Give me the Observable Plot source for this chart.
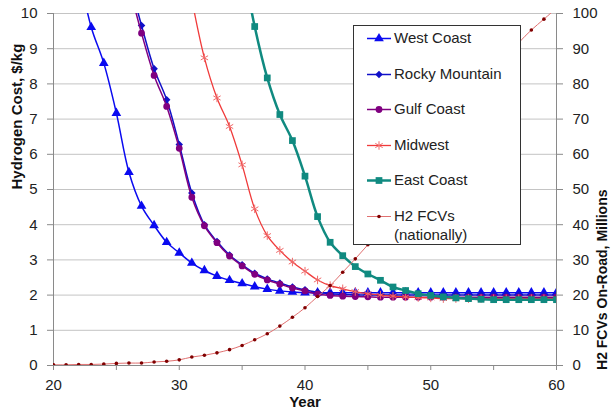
<!DOCTYPE html>
<html>
<head>
<meta charset="utf-8">
<script src="https://cdn.jsdelivr.net/npm/d3@7"></script>
<script src="https://cdn.jsdelivr.net/npm/@observablehq/plot@0.6"></script>
<style>
  html, body { margin: 0; padding: 0; background: #fff; }
  #wrap { position: relative; width: 611px; height: 414px; font-family: "Liberation Sans", Arial, sans-serif; }
  #legend { position: absolute; left: 353px; top: 25px; width: 166px; height: 218px; border: 1px solid #333; background: #fff; box-sizing: content-box; }
  .row { position: absolute; left: 13px; display: flex; align-items: flex-start; font-size: 15px; color: #222; }
  .row svg { flex: none; margin-right: 3px; }
  .row span { line-height: 19px; }
</style>
</head>
<body>
<div id="wrap"></div>
<script>
// ---- data ----
const xTicks = [20, 25, 30, 35, 40, 45, 50, 55, 60];
const leftTicks = [0, 1, 2, 3, 4, 5, 6, 7, 8, 9, 10];
const rightTicks = [0, 10, 20, 30, 40, 50, 60, 70, 80, 90, 100];

const seriesNames = ["West Coast", "Rocky Mountain", "Gulf Coast", "Midwest", "East Coast", "H2 FCVs (nationally)"];

const westCoastStart = 22;
const westCoast = [11.2, 9.61, 8.59, 7.17, 5.49, 4.53, 3.98, 3.5, 3.2, 2.91, 2.70, 2.54, 2.42, 2.33, 2.24, 2.17, 2.12, 2.09, 2.07, 2.07,
  2.07, 2.07, 2.07, 2.07, 2.07, 2.07, 2.07, 2.07, 2.07, 2.07, 2.07, 2.07, 2.07, 2.07, 2.07, 2.07, 2.07, 2.07, 2.07];

const rockyStart = 26;
const rocky = [11.0, 9.66, 8.43, 7.55, 6.28, 4.9, 4.0, 3.52, 3.14, 2.86, 2.62, 2.46, 2.34, 2.23, 2.15, 2.08, 2.04, 2.02, 2.01,
  2.0, 2.0, 2.0, 2.0, 2.0, 2.0, 2.0, 2.0, 2.0, 2.0, 2.0, 2.0, 2.0, 2.0, 2.0, 2.0];

const gulfStart = 26;
const gulf = [10.8, 9.44, 8.24, 7.36, 6.17, 4.78, 3.97, 3.49, 3.11, 2.83, 2.59, 2.43, 2.31, 2.2, 2.12, 2.03, 1.99, 1.97, 1.96, 1.95,
  1.94, 1.94, 1.94, 1.94, 1.94, 1.94, 1.94, 1.94, 1.94, 1.94, 1.94, 1.94, 1.94, 1.94, 1.94];

const midwestStart = 31;
const midwest = [10.4, 8.74, 7.6, 6.79, 5.7, 4.45, 3.69, 3.27, 2.94, 2.68, 2.43, 2.27, 2.18, 2.1, 2.04, 2.0, 1.97, 1.95, 1.93, 1.92,
  1.9, 1.9, 1.9, 1.9, 1.9, 1.9, 1.9, 1.9, 1.9, 1.9];

const eastStart = 35;
const east = [11.5, 9.63, 8.17, 7.13, 6.39, 5.38, 4.23, 3.5, 3.12, 2.81, 2.6, 2.42, 2.23, 2.13, 2.04, 1.99, 1.95, 1.92, 1.9, 1.88,
  1.87, 1.87, 1.87, 1.87, 1.87, 1.87];

const fcvStart = 20; // millions on road (right axis)
const fcv = [0.2, 0.2, 0.3, 0.3, 0.4, 0.6, 0.7, 0.7, 1.0, 1.2, 1.6, 2.4, 2.9, 3.6, 4.5, 5.7, 7.3, 9.0, 11.2, 13.7, 16.4, 19.6,
  22.7, 26.5, 30.3, 34.3, 38.6, 43.2, 48.1, 53.2, 58.5, 63.8, 69.0, 74.0, 78.8, 83.3, 87.5, 91.7, 95.3, 98.4, 101.5];

// ---- styling ----
const toRows = (start, vals, f = v => v) => vals.map((v, i) => ({year: start + i, v: f(v)}));
const series = [
  {name: seriesNames[0], rows: toRows(westCoastStart, westCoast), color: "#0a0af0", line: "#0a0af0", sw: 1.5, symbol: "triangle", r: 3.6, kind: "fill"},
  {name: seriesNames[1], rows: toRows(rockyStart, rocky), color: "#1010c8", line: "#1010c8", sw: 1.5, symbol: "diamond2", r: 3.4, kind: "fill"},
  {name: seriesNames[2], rows: toRows(gulfStart, gulf), color: "#800080", line: "#800080", sw: 1.5, symbol: "circle", r: 3.4, kind: "fill"},
  {name: seriesNames[3], rows: toRows(midwestStart, midwest), color: "#f06a6a", line: "#f03a3a", sw: 1.3, symbol: "asterisk", r: 4, kind: "stroke"},
  {name: seriesNames[4], rows: toRows(eastStart, east), color: "#108a80", line: "#108a80", sw: 2.5, symbol: "square", r: 3.8, kind: "fill"},
  {name: seriesNames[5], rows: toRows(fcvStart, fcv, v => v / 10), color: "#800000", line: "#e07070", sw: 1, symbol: "circle", r: 1.8, kind: "fill"}
];

const marks = [
  Plot.gridY(leftTicks, {stroke: "#c4c4c4", strokeOpacity: 1}),
  Plot.ruleX([20, 60], {stroke: "#8a8a8a"}),
  Plot.ruleY([0], {stroke: "#8a8a8a"}),
  Plot.axisY(leftTicks, {anchor: "left", tickSize: 6, tickPadding: 10, stroke: "#8a8a8a", fill: "#222", label: null}),
  Plot.axisY(rightTicks.map(t => t / 10), {anchor: "right", tickSize: 6, tickPadding: 10, stroke: "#8a8a8a", fill: "#222",
    tickFormat: d => String(Math.round(d * 10)), label: null}),
  Plot.axisX(xTicks, {anchor: "bottom", tickSize: 5, tickPadding: 9, stroke: "#8a8a8a", fill: "#222",
    tickFormat: d => (d % 10 === 0 ? String(d) : ""), label: null})
];

for (const s of series) {
  marks.push(Plot.line(s.rows, {x: "year", y: "v", stroke: s.line, strokeWidth: s.sw, curve: "catmull-rom", clip: true}));
  if (s.kind === "fill") {
    marks.push(Plot.dot(s.rows, {x: "year", y: "v", symbol: () => s.symbol, r: s.r, fill: s.color, stroke: "none", clip: true}));
  } else {
    marks.push(Plot.dot(s.rows, {x: "year", y: "v", symbol: () => s.symbol, r: s.r, fill: "none", stroke: s.color, strokeWidth: 1, clip: true}));
  }
}

marks.push(
  Plot.text(["Hydrogen Cost, $/kg"], {frameAnchor: "left", rotate: -90, dx: -36, fontWeight: "bold", fontSize: 15, fill: "#111"}),
  Plot.text(["H2 FCVs On-Road, Millions"], {frameAnchor: "right", rotate: -90, dx: 46, fontWeight: "bold", fontSize: 14, fill: "#111"}),
  Plot.text(["Year"], {frameAnchor: "bottom", dy: 41, fontWeight: "bold", fontSize: 15, fill: "#111"})
);

const chart = Plot.plot({
  width: 611,
  height: 414,
  marginLeft: 53,
  marginRight: 55,
  marginTop: 13,
  marginBottom: 49,
  x: {domain: [20, 60]},
  y: {domain: [0, 10]},
  symbol: {type: "identity"},
  style: {fontFamily: "'Liberation Sans', Arial, sans-serif", fontSize: "15px", color: "#222", background: "#fff", overflow: "visible"},
  marks
});

const wrap = document.getElementById("wrap");
wrap.appendChild(chart);

// ---- legend (HTML overlay) ----
const legend = document.createElement("div");
legend.id = "legend";
const symMap = {triangle: d3.symbolTriangle, diamond2: d3.symbolDiamond2, circle: d3.symbolCircle, asterisk: d3.symbolAsterisk, square: d3.symbolSquare};
series.forEach((s, i) => {
  const row = document.createElement("div");
  row.className = "row";
  row.style.top = (i * 35.5 + 2) + "px";
  const svg = d3.create("svg").attr("width", 24).attr("height", 19);
  svg.append("line").attr("x1", 0).attr("x2", 24).attr("y1", 10.5).attr("y2", 10.5)
    .attr("stroke", s.line).attr("stroke-width", s.sw);
  const path = d3.symbol(symMap[s.symbol], Math.PI * s.r * s.r)();
  const p = svg.append("path").attr("d", path).attr("transform", "translate(12,10.5)");
  if (s.kind === "fill") p.attr("fill", s.color); else p.attr("fill", "none").attr("stroke", s.color);
  row.appendChild(svg.node());
  const label = document.createElement("span");
  if (i === 5) label.innerHTML = "H2 FCVs<br>(nationally)"; else label.textContent = s.name;
  row.appendChild(label);
  legend.appendChild(row);
});
wrap.appendChild(legend);
</script>
</body>
</html>
